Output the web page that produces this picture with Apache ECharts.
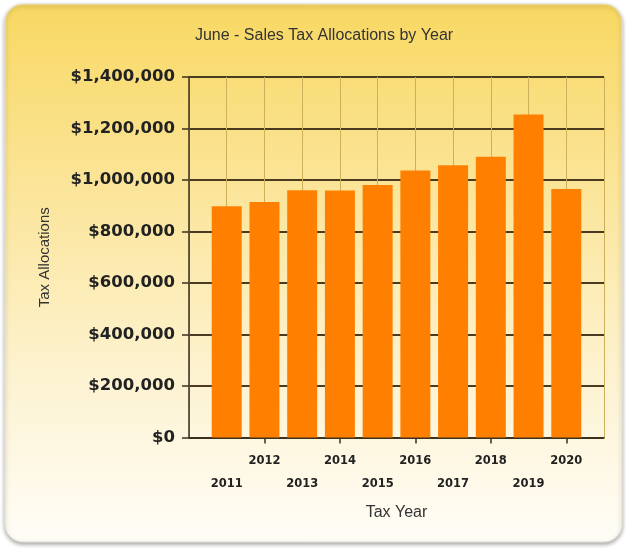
<!DOCTYPE html>
<html>
<head>
<meta charset="utf-8">
<script src="https://cdn.jsdelivr.net/npm/echarts@6/dist/echarts.min.js"></script>
<style>
html,body{margin:0;padding:0;background:#ffffff;}
#c{width:627px;height:548px;}
</style>
</head>
<body>
<div id="c"></div>
<script>
const years = [2011, 2012, 2013, 2014, 2015, 2016, 2017, 2018, 2019, 2020];
const allocations = [898000, 915000, 960000, 959000, 981000, 1037000, 1057000, 1090000, 1254000, 965000];
const tickYears = [2012, 2014, 2016, 2018, 2020];
const yTicks = [0, 200000, 400000, 600000, 800000, 1000000, 1200000, 1400000];

const chart = echarts.init(document.getElementById('c'), null, {renderer: 'canvas'});
const fmtMoney = v => '$' + v.toLocaleString('en-US');
const axisColor = '#3a2f1c';

chart.setOption({
  animation: false,
  backgroundColor: 'transparent',
  graphic: [{
    type: 'rect',
    z: -10,
    shape: {x: 5, y: 4, width: 617, height: 538, r: 18},
    style: {
      fill: new echarts.graphic.LinearGradient(0, 0, 0, 1, [
        {offset: 0, color: '#f8d862'},
        {offset: 0.35, color: '#fbe59a'},
        {offset: 0.7, color: '#fdf3d2'},
        {offset: 1, color: '#fffdf7'}
      ]),
      stroke: '#e6e2d6',
      lineWidth: 1,
      shadowColor: 'rgba(0,0,0,0.35)',
      shadowBlur: 4,
      shadowOffsetY: 2
    }
  }],
  title: {
    text: 'June - Sales Tax Allocations by Year',
    left: 319,
    textAlign: 'center',
    top: 23,
    textStyle: {fontFamily: 'Liberation Sans', fontSize: 16, fontWeight: 'normal', color: '#333'}
  },
  grid: {left: 189, right: 23, top: 77, bottom: 110.5, containLabel: false},
  xAxis: [{
    type: 'value',
    min: 2010,
    max: 2021,
    interval: 1,
    axisLine: {show: false},
    axisTick: {show: false},
    axisLabel: {show: false},
    splitLine: {show: true, lineStyle: {color: '#cfb05a', width: 1}}
  }, {
    type: 'value',
    position: 'bottom',
    min: 2010,
    max: 2021,
    interval: 1,
    name: 'Tax Year',
    nameLocation: 'middle',
    nameGap: 67,
    nameTextStyle: {fontFamily: 'Liberation Sans', fontSize: 16, color: '#333'},
    axisLine: {show: true, onZero: false, lineStyle: {color: axisColor, width: 1.5}},
    axisTick: {show: true, length: 6, lineStyle: {color: axisColor, width: 1.5}, customValues: tickYears},
    axisLabel: {
      customValues: years,
      margin: 12,
      fontFamily: 'DejaVu Sans',
      fontWeight: 'bold',
      fontSize: 11.5,
      color: '#222',
      lineHeight: 23,
      formatter: v => (v % 2 === 1 ? '\n' + v : String(v))
    },
    splitLine: {show: false}
  }],
  yAxis: {
    type: 'value',
    min: 0,
    max: 1400000,
    interval: 200000,
    name: 'Tax Allocations',
    nameLocation: 'middle',
    nameGap: 137,
    nameTextStyle: {fontFamily: 'Liberation Sans', fontSize: 15, color: '#333'},
    axisLine: {show: true, lineStyle: {color: axisColor, width: 1.5}},
    axisTick: {show: true, length: 7, lineStyle: {color: axisColor, width: 1.5}},
    axisLabel: {
      margin: 14,
      fontFamily: 'DejaVu Sans',
      fontWeight: 'bold',
      fontSize: 16.5,
      color: '#222',
      formatter: v => fmtMoney(v)
    },
    splitLine: {show: true, lineStyle: {color: '#4a3b20', width: 2}}
  },
  series: [{
    type: 'bar',
    xAxisIndex: 0,
    data: years.map((y, i) => [y, allocations[i]]),
    barWidth: 30,
    itemStyle: {color: '#ff8000'},
    z: 3
  }]
});
</script>
</body>
</html>
